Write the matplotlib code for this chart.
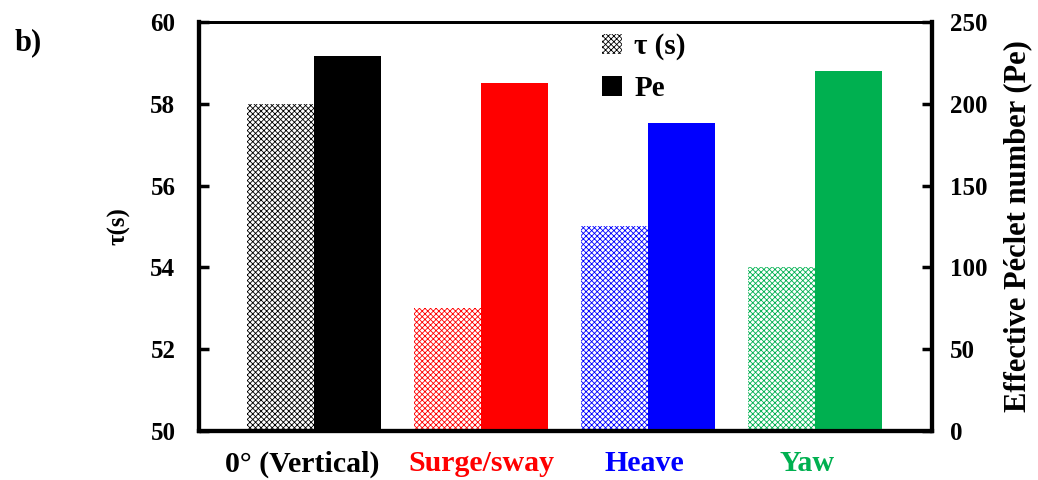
import numpy as np
import matplotlib
matplotlib.use('Agg')
import matplotlib.pyplot as plt
from matplotlib.patches import Patch

# data
categories = ['0° (Vertical)', 'Surge/sway', 'Heave', 'Yaw']
colors = ['#000000', '#ff0000', '#0000ff', '#00b050']
tau = [58, 53, 55, 54]
pe = [229, 213, 188, 220]

plt.rcParams['font.family'] = ['Liberation Serif', 'DejaVu Serif']
plt.rcParams['font.weight'] = 'bold'
plt.rcParams['hatch.linewidth'] = 0.6

fig = plt.figure(figsize=(10.38, 4.8), dpi=100)
ax = fig.add_axes([199/1038, 1 - 431/480, 733/1038, 409/480])
ax2 = ax.twinx()

x = np.arange(len(categories))
w = 0.4
for i in range(len(categories)):
    ax.bar(x[i] - w/2, tau[i] - 50, w, bottom=50, facecolor='white',
           edgecolor=colors[i], hatch='xxxxxx', linewidth=0)
    ax2.bar(x[i] + w/2, pe[i], w, color=colors[i], linewidth=0)

ax.set_xlim(-0.69, 3.70)
ax.set_ylim(50, 60)
ax.set_yticks([50, 52, 54, 56, 58, 60])
ax2.set_ylim(0, 250)
ax2.set_yticks([0, 50, 100, 150, 200, 250])

# category labels sit slightly off the group centres in the original
label_shift = np.array([-0.07, 0.0, -0.02, -0.05])
ax.set_xticks(x + label_shift)
ax.set_xticklabels(categories, fontsize=21.5, fontweight='bold')
for lbl, c in zip(ax.get_xticklabels(), colors):
    lbl.set_color(c)
ax.tick_params(axis='x', length=0, pad=14)
ax.tick_params(axis='y', direction='in', length=7, width=2.5, labelsize=18, pad=17)
ax2.tick_params(axis='y', direction='in', length=7, width=2.5, labelsize=18, pad=13)
ax2.tick_params(axis='x', length=0)

for a in (ax, ax2):
    for s in ['left', 'right', 'bottom']:
        a.spines[s].set_linewidth(3)
    a.spines['top'].set_linewidth(2)

ax.set_ylabel('τ(s)', fontsize=18, fontweight='bold', labelpad=14)
ax2.set_ylabel('Effective Péclet number (Pe)', fontsize=22, fontweight='bold', labelpad=11)

fig.text(15/1038, 1 - 43/480, 'b)', fontsize=22, fontweight='bold', va='center')

handles = [Patch(facecolor='white', edgecolor='black', hatch='xxxxxx', linewidth=0),
           Patch(facecolor='black')]
ax.legend(handles, ['τ (s)', 'Pe'], loc='upper left', bbox_to_anchor=(0.514, 1.037),
          frameon=False, prop={'size': 21, 'weight': 'bold'}, handlelength=0.7,
          handleheight=0.7, handletextpad=0.4, labelspacing=0.5)

fig.savefig('out.png', dpi=100)
